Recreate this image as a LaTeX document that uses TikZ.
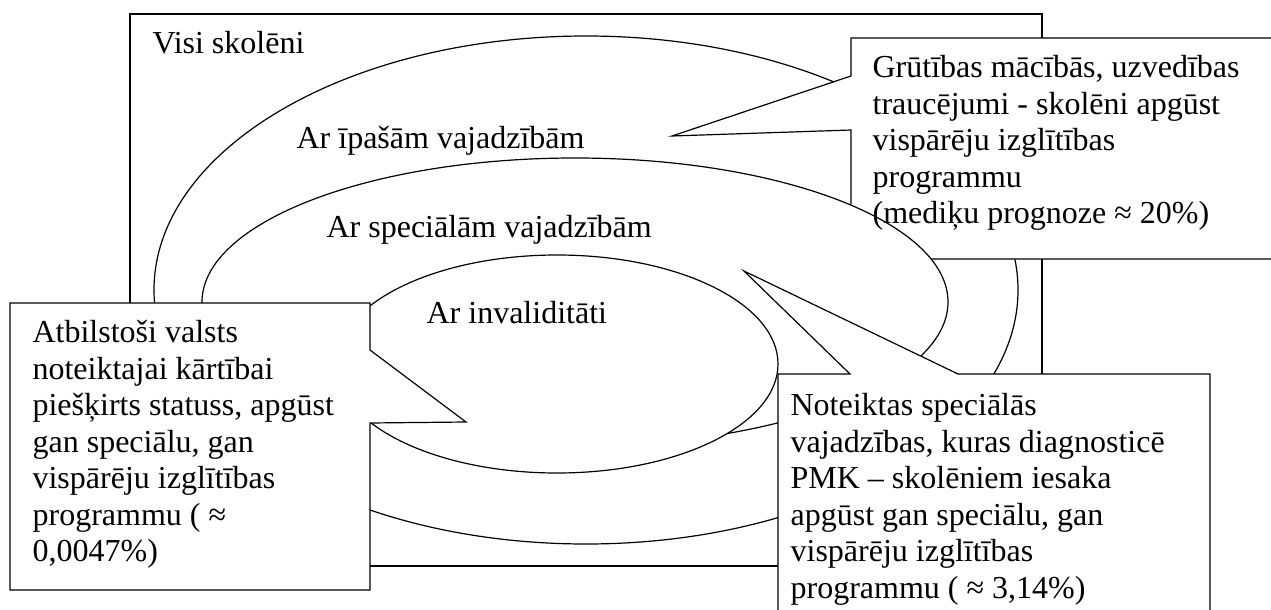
\documentclass[tikz,border=0pt]{standalone}
\usepackage{fontspec}
\setmainfont{Liberation Serif}
\begin{document}
\begin{tikzpicture}[x=1pt,y=-1pt, line width=1.2pt,
  area/.style={draw=black, fill=white, line join=miter},
  lbl/.style={anchor=base west, inner sep=0pt, font=\fontsize{32}{36.5}\selectfont},
  calltext/.style={anchor=north west, inner sep=0pt, align=left, font=\fontsize{32}{36.5}\selectfont}]
\clip (0,0) rectangle (1271,610);
% outer rectangle
\draw[area] (130,14) rectangle (1042,566);
% ellipse 1
\draw[area] (586,290) ellipse [x radius=432pt, y radius=254pt];
% top-right callout
\draw[area] (851,38) -- (1290,38) -- (1290,259) -- (851,259) -- (851,130) -- (672,136) -- (851,76) -- cycle;
% ellipse 2
\draw[area] (575,302) ellipse [x radius=373pt, y radius=144pt];
% ellipse 3
\draw[area] (557,364) ellipse [x radius=221pt, y radius=109pt];
% left callout
\draw[area] (10,303) -- (370,303) -- (370,350) -- (466,422) -- (370,423) -- (370,590) -- (10,590) -- cycle;
% bottom-right callout
\draw[area] (778,374) -- (850,374) -- (744,271) -- (958,374) -- (1210,374) -- (1210,640) -- (778,640) -- cycle;
% texts
\node[lbl] (tall) at (152,53) {Visi skolēni};
\node[lbl] (tip) at (296,148) {Ar īpašām vajadzībām};
\node[lbl] (tspec) at (326,237) {Ar speciālām vajadzībām};
\node[lbl] (tinv) at (426,323) {Ar invaliditāti};
\node[calltext] (ctr) at (872,51.45) {\strut Grūtības mācībās, uzvedības\\traucējumi - skolēni apgūst\\vispārēju izglītības\\programmu\\(mediķu prognoze ≈ 20\%)};
\node[calltext] (cl) at (32,316.45) {\strut Atbilstoši valsts\\noteiktajai kārtībai\\piešķirts statuss, apgūst\\gan speciālu, gan\\vispārēju izglītības\\programmu ( ≈\\0,0047\%)};
\node[calltext] (cbr) at (790,389.45) {\strut Noteiktas speciālās\\vajadzības, kuras diagnosticē\\PMK – skolēniem iesaka\\apgūst gan speciālu, gan\\vispārēju izglītības\\programmu ( ≈ 3,14\%)};
\end{tikzpicture}
\end{document}
